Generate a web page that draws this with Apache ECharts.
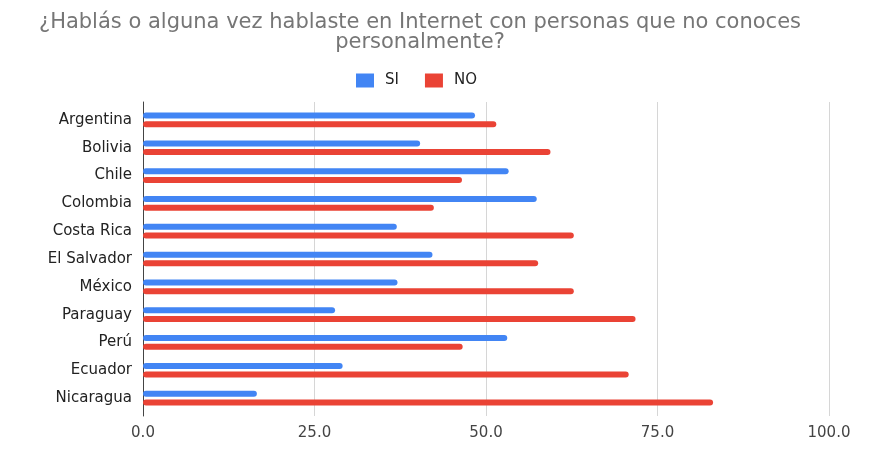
<!DOCTYPE html>
<html>
<head>
<meta charset="utf-8">
<script src="https://cdn.jsdelivr.net/npm/echarts@6/dist/echarts.min.js"></script>
<style>html,body{margin:0;padding:0;background:#fff}#c{width:878px;height:467px}</style>
</head>
<body>
<div id="c"></div>
<script>
const categories = ['Argentina','Bolivia','Chile','Colombia','Costa Rica','El Salvador','México','Paraguay','Perú','Ecuador','Nicaragua'];
const siValues = [48.4, 40.4, 53.3, 57.4, 37.0, 42.2, 37.1, 28.0, 53.1, 29.1, 16.6];
const noValues = [51.5, 59.4, 46.5, 42.4, 62.8, 57.6, 62.8, 71.8, 46.6, 70.8, 83.1];
const xTicks = [0, 25, 50, 75, 100];

const chart = echarts.init(document.getElementById('c'), null, {renderer: 'canvas'});
const font = '"DejaVu Sans", sans-serif';
chart.setOption({
  animation: false,
  backgroundColor: '#fff',
  title: {
    text: '¿Hablás o alguna vez hablaste en Internet con personas que no conoces\npersonalmente?',
    left: 415, top: 8, textAlign: 'center',
    textStyle: {fontFamily: font, fontSize: 21, fontWeight: 'normal', color: '#767676', lineHeight: 20}
  },
  legend: {
    data: ['SI', 'NO'], top: 68, left: 351,
    icon: 'rect', itemWidth: 18, itemHeight: 14, itemGap: 26,
    textStyle: {fontFamily: font, fontSize: 15, color: '#222', padding: [0, 0, 0, 6]}
  },
  grid: [
    {left: 143, right: 878 - 829, top: 102, height: 314},
    {left: 143, right: 878 - 829, top: 106, height: 306}
  ],
  xAxis: [
    {gridIndex: 0, type: 'value', min: xTicks[0], max: xTicks[xTicks.length - 1], interval: 25,
     axisLine: {show: false}, axisTick: {show: false},
     axisLabel: {fontFamily: font, fontSize: 15, color: '#444', margin: 10, formatter: v => v.toFixed(1)},
     splitLine: {lineStyle: {color: '#d6d6d6', width: 1}}},
    {gridIndex: 1, type: 'value', min: 0, max: 100, show: false}
  ],
  yAxis: [
    {gridIndex: 0, type: 'category', data: categories, inverse: true,
     axisLine: {show: true, lineStyle: {color: '#444', width: 1}}, axisTick: {show: false},
     axisLabel: {show: false}},
    {gridIndex: 1, type: 'category', data: categories, inverse: true,
     axisLine: {show: false}, axisTick: {show: false},
     axisLabel: {fontFamily: font, fontSize: 15, color: '#222', margin: 11}}
  ],
  series: [
    {name: 'SI', type: 'bar', xAxisIndex: 1, yAxisIndex: 1, data: siValues, barWidth: 6, barGap: '45%',
     itemStyle: {color: '#4285F4', borderRadius: 3}},
    {name: 'NO', type: 'bar', xAxisIndex: 1, yAxisIndex: 1, data: noValues, barWidth: 6, barGap: '45%',
     itemStyle: {color: '#EA4335', borderRadius: 3}}
  ]
});
</script>
</body>
</html>
